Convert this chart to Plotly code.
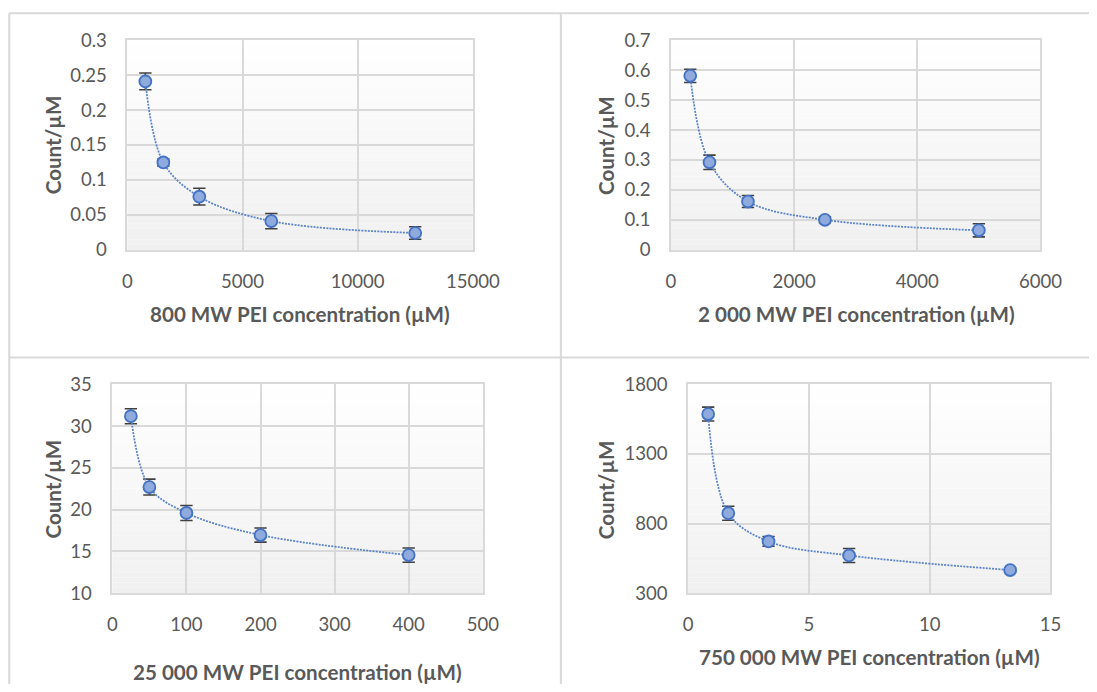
import plotly.graph_objects as go

# Screen pixel = B + SC * page pixel (measured on the rendering pipeline);
# page pixel = figure pixel + 8 (default body margin).
SC = 0.97
BX, BY = 5.0, 11.0
OFF = 8
W = 1108
H = 686

# ---------------- data ----------------
conc_800 = [781, 1562, 3125, 6250, 12500]
count_800 = [0.241, 0.125, 0.076, 0.041, 0.024]
err_800 = [0.012, 0.005, 0.012, 0.011, 0.009]

conc_2000 = [312.5, 625, 1250, 2500, 5000]
count_2000 = [0.581, 0.292, 0.161, 0.100, 0.065]
err_2000 = [0.022, 0.024, 0.020, 0.010, 0.022]

conc_25000 = [25, 50, 100, 200, 400]
count_25000 = [31.2, 22.7, 19.6, 16.95, 14.55]
err_25000 = [0.9, 0.95, 0.9, 0.85, 0.85]

conc_750000 = [0.833, 1.667, 3.333, 6.667, 13.333]
count_750000 = [1587, 874, 671, 570, 465]
err_750000 = [50, 50, 35, 50, 15]

x_titles = ["800 MW PEI concentration (µM)", "2 000 MW PEI concentration (µM)",
            "25 000 MW PEI concentration (µM)", "750 000 MW PEI concentration (µM)"]
y_title = "Count/µM"

x_ranges = [[0, 15000], [0, 6000], [0, 500], [0, 15]]
x_dticks = [5000, 2000, 100, 5]
y_ranges = [[0, 0.3], [0, 0.7], [10, 35], [300, 1800]]
y_dticks = [0.05, 0.1, 5, 500]

series = [(conc_800, count_800, err_800), (conc_2000, count_2000, err_2000),
          (conc_25000, count_25000, err_25000), (conc_750000, count_750000, err_750000)]

# ---------------- layout geometry (target screen pixels) ----------------
areas = [(127, 472, 39, 249), (670, 1039, 39, 249),
         (112, 482, 384, 593), (687, 1049, 384, 593)]
xtitle_pos = [(299, 313), (855, 313), (297, 672), (868, 657)]
ytitle_pos = [(53, 144), (605, 144), (53, 489), (605, 489)]


def px(x):
    return ((x - BX) / SC - OFF) / W


def py(y):
    return 1 - ((y - BY) / SC - OFF) / H


def sz(v):
    return v / SC


TXT = "#595959"
GRID = "#d9d9d9"
FONT = "Lato, Open Sans, sans-serif"

fig = go.Figure()
shapes = []
annotations = []

for i, (xs, ys, es) in enumerate(series):
    n = i + 1
    xa = "x" if n == 1 else f"x{n}"
    ya = "y" if n == 1 else f"y{n}"
    fig.add_trace(go.Scatter(
        x=xs, y=ys, xaxis=xa, yaxis=ya, mode="lines+markers",
        line=dict(color="#5B84CC", width=sz(1.7), dash="2px,1.2px",
                  shape="spline", smoothing=1.0),
        marker=dict(size=sz(11.5), color="#8FAADC", line=dict(color="#4472C4", width=sz(1.8))),
        error_y=dict(type="data", array=es, visible=True, color="#404040",
                     thickness=sz(1.5), width=sz(6)),
        showlegend=False, cliponaxis=False,
    ))
    l, r, t, b = areas[i]
    common_ax = dict(showgrid=True, gridcolor=GRID, gridwidth=sz(1.5), zeroline=False,
                     showline=True, linecolor=GRID, linewidth=sz(1.5), mirror=True,
                     ticks="", fixedrange=True,
                     tickfont=dict(family=FONT, size=sz(18), color=TXT))
    fig.update_layout(**{
        ("xaxis" if n == 1 else f"xaxis{n}"): dict(
            domain=[px(l), px(r)], anchor=ya, range=x_ranges[i], dtick=x_dticks[i],
            tick0=0, tickformat="d", ticklabelstandoff=14, **common_ax),
        ("yaxis" if n == 1 else f"yaxis{n}"): dict(
            domain=[py(b), py(t)], anchor=xa, range=y_ranges[i], dtick=y_dticks[i],
            tick0=y_ranges[i][0], ticklabelstandoff=15, **common_ax),
    })
    nb = 40
    for k in range(nb):
        f = (k + 0.5) / nb
        c = int(round(240 + (255 - 240) * f))
        shapes.append(dict(type="rect", xref=f"{xa} domain", yref=f"{ya} domain",
                           x0=0, x1=1, y0=k / nb, y1=(k + 1) / nb,
                           fillcolor=f"rgb({c},{c},{c})", line=dict(width=0),
                           layer="below"))
    annotations.append(dict(text=f"<b>{x_titles[i]}</b>", xref="paper", yref="paper",
                            x=px(xtitle_pos[i][0]), y=py(xtitle_pos[i][1]),
                            xanchor="center", yanchor="middle", showarrow=False,
                            font=dict(family=FONT, size=sz(20), color=TXT)))
    annotations.append(dict(text=f"<b>{y_title}</b>", xref="paper", yref="paper",
                            x=px(ytitle_pos[i][0]), y=py(ytitle_pos[i][1]),
                            xanchor="center", yanchor="middle", showarrow=False,
                            textangle=-90,
                            font=dict(family=FONT, size=sz(20), color=TXT)))

border = dict(color=GRID, width=sz(2))
shapes += [
    dict(type="line", xref="paper", yref="paper", x0=px(9), x1=1, y0=py(12), y1=py(12), line=border),
    dict(type="line", xref="paper", yref="paper", x0=px(9), x1=px(9), y0=0, y1=py(12), line=border),
    dict(type="line", xref="paper", yref="paper", x0=px(560), x1=px(560), y0=0, y1=py(12), line=border),
    dict(type="line", xref="paper", yref="paper", x0=px(9), x1=1, y0=py(357), y1=py(357), line=border),
]

fig.update_layout(
    width=W, height=H, autosize=False,
    margin=dict(l=0, r=0, t=0, b=0),
    paper_bgcolor="white", plot_bgcolor="white",
    shapes=shapes, annotations=annotations,
    font=dict(family=FONT, color=TXT),
)

fig.write_html("out.html", config={"displayModeBar": False})
